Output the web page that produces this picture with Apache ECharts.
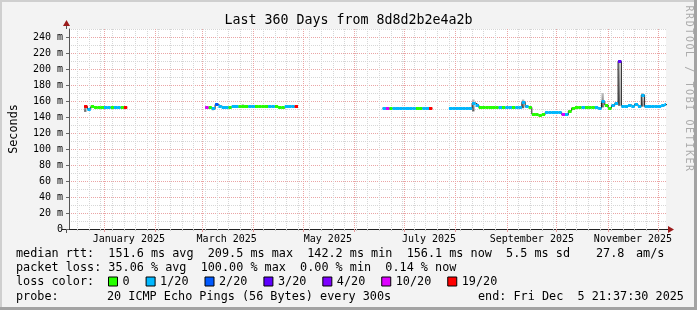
<!DOCTYPE html>
<html>
<head>
<meta charset="utf-8">
<script src="https://cdn.jsdelivr.net/npm/echarts@6/dist/echarts.min.js"></script>
<style>
html, body { margin: 0; padding: 0; background: #f3f3f3; }
#chart { width: 697px; height: 310px; }
</style>
</head>
<body>
<div id="chart"></div>
<script>
// time range of the graph (last 360 days)
const rangeStart = '2024-12-10T21:37:30Z';
const rangeEnd = '2025-12-05T21:37:30Z';
const stepDays = 2;

// loss colour buckets
const lossLabels = ['0', '1/20', '2/20', '3/20', '4/20', '10/20', '19/20'];
const lossColors = ['#26ff00', '#00b8ff', '#0059ff', '#5e00ff', '#7e00ff', '#dd00ff', '#ff0000'];

// median rtt (ms) per 2 day step, loss = index into lossLabels
const seg1Start = '2024-12-20';
const seg1Rtt = [153.2, 150.0, 152.8, 151.8, 151.6, 151.6, 151.6, 151.8, 151.6, 151.6, 151.8, 151.6, 151.8];
const seg1Loss = [6, 1, 0, 0, 0, 0, 1, 1, 0, 1, 1, 0, 6];

const seg2Start = '2025-03-03';
const seg2Rtt = [151.5, 151.5, 150.2, 155.5, 153.6, 152.2, 152.0, 152.4, 152.6, 152.6, 152.8, 153.0, 153.0, 153.4,
                 153.0, 152.8, 152.8, 153.0, 153.4, 153.0, 152.8, 152.8, 151.6, 151.4, 152.6, 153.4, 152.8, 152.6];
const seg2Loss = [5, 0, 1, 2, 1, 1, 1, 0, 1, 1, 0, 0, 0, 1, 1, 0, 0, 0, 0, 1, 1, 0, 0, 0, 1, 1, 1, 6];

const seg3Start = '2025-06-18';
const seg3Rtt = [150.8, 150.6, 150.8, 150.8, 150.8, 150.8, 150.8, 150.8, 150.8, 150.8, 150.8, 151.0, 151.0, 150.8, 150.8];
const seg3Loss = [1, 5, 0, 1, 1, 1, 1, 1, 1, 1, 0, 0, 1, 1, 6];

const seg4Start = '2025-07-28';
const seg4Rtt = [150.8, 150.8, 150.8, 150.8, 150.8, 150.8, 151.0, 157.5, 155.0, 152.0,
                 152.0, 152.4, 152.0, 151.6, 152.0, 152.0, 151.6, 152.0, 152.0, 151.6,
                 152.0, 152.4, 158.5, 153.0, 152.0, 143.6, 142.6, 142.2, 143.0, 145.6,
                 145.6, 145.6, 145.8, 145.6, 143.0, 142.6, 147.5, 151.0, 152.0, 152.0,
                 152.2, 152.0, 152.0, 152.0, 151.6, 151.0, 159.0, 155.0, 151.0, 154.4,
                 157.0, 209.5, 153.6, 153.4, 155.0, 153.4, 156.0, 153.4, 167.5, 153.0,
                 153.0, 153.4, 153.0, 153.4, 154.4, 156.1];
const seg4Loss = [1, 1, 1, 1, 1, 1, 1, 1, 1, 0,
                  0, 0, 0, 0, 0, 1, 0, 1, 1, 0,
                  1, 1, 1, 1, 0, 0, 0, 0, 0, 1,
                  1, 1, 1, 1, 5, 1, 0, 0, 0, 0,
                  1, 0, 0, 0, 1, 1, 1, 0, 0, 1,
                  1, 3, 1, 1, 1, 1, 1, 1, 1, 1,
                  1, 1, 1, 1, 1, 1];

// smoke (spread of the pings) where it is visible
const smokeDates = ['2024-12-20', '2025-03-07', '2025-03-25', '2025-08-11', '2025-09-10', '2025-10-28', '2025-11-07', '2025-11-21'];
const smokeLow = [146.5, 148.5, 151.5, 147.0, 151.0, 152.0, 154.0, 153.0];
const smokeHigh = [154.0, 152.0, 156.0, 162.0, 162.0, 170.0, 209.5, 170.0];

// axis labels
const monthLabels = ['January 2025', 'March 2025', 'May 2025', 'July 2025', 'September 2025', 'November 2025'];
const monthLabelDates = ['2025-01-16', '2025-03-16', '2025-05-16', '2025-07-16', '2025-09-16', '2025-11-16'];
const yMajorTicks = [0, 20, 40, 60, 80, 100, 120, 140, 160, 180, 200, 220, 240];

const DAY = 86400000;
const tMin = Date.parse(rangeStart);
const tMax = Date.parse(rangeEnd);
const mono = 'DejaVu Sans Mono';

// grid: month starts (red) and mondays (grey)
let monthStarts = [];
for (let m = 0; m < 12; m++) monthStarts.push(Date.UTC(2025, m, 1));
let mondays = [];
for (let t = Date.parse('2024-12-16'); t < tMax; t += 7 * DAY) mondays.push(t);
const labelTimes = monthLabelDates.map(d => Date.parse(d));

// build samples
const segments = [
    [seg1Start, seg1Rtt, seg1Loss],
    [seg2Start, seg2Rtt, seg2Loss],
    [seg3Start, seg3Rtt, seg3Loss],
    [seg4Start, seg4Rtt, seg4Loss]
];
let bucketData = lossLabels.map(() => []);
let medianLine = [];
segments.forEach(([start, rtt, loss]) => {
    const t0 = Date.parse(start);
    rtt.forEach((v, i) => {
        const a = t0 + i * stepDays * DAY;
        const b = a + stepDays * DAY;
        bucketData[loss[i]].push([a, b, v]);
        medianLine.push([a, v]);
        if (i === rtt.length - 1) {
            medianLine.push([b, v]);
            medianLine.push([b + 1, '-']);
        }
    });
});
const smokeData = smokeDates.map((d, i) => {
    const a = Date.parse(d);
    return [a, a + stepDays * DAY, smokeLow[i], smokeHigh[i]];
});

function barItem(params, api) {
    const p = api.coord([api.value(0), api.value(2)]);
    const q = api.coord([api.value(1), api.value(2)]);
    return {
        type: 'rect',
        shape: { x: p[0], y: Math.round(p[1] - 1.5), width: q[0] - p[0], height: 3 },
        style: { fill: api.visual('color') }
    };
}
function smokeItem(params, api) {
    const p = api.coord([api.value(0), api.value(3)]);
    const q = api.coord([api.value(1), api.value(2)]);
    return {
        type: 'rect',
        shape: { x: p[0], y: p[1], width: (q[0] - p[0]) * 0.7, height: q[1] - p[1] },
        style: {
            fill: new echarts.graphic.LinearGradient(0, 0, 0, 1, [
                { offset: 0, color: '#c4c4c4' },
                { offset: 1, color: '#5a5a5a' }
            ])
        }
    };
}

var myChart = echarts.init(document.getElementById('chart'));

let series = [{
    type: 'custom',
    name: 'smoke',
    xAxisIndex: 1,
    z: 1,
    clip: true,
    renderItem: smokeItem,
    encode: { x: [0, 1], y: [2, 3] },
    data: smokeData
}, {
    type: 'line',
    name: 'median',
    xAxisIndex: 1,
    z: 2,
    step: 'end',
    showSymbol: false,
    connectNulls: false,
    lineStyle: { color: '#202020', width: 1 },
    data: medianLine
}];
lossLabels.forEach((name, i) => {
    series.push({
        type: 'custom',
        name: name,
        xAxisIndex: 1,
        z: 3,
        clip: true,
        itemStyle: { color: lossColors[i] },
        renderItem: barItem,
        encode: { x: [0, 1], y: 2 },
        data: bucketData[i]
    });
});

const textRow = (str, x, y) => ({
    type: 'text', x: x, y: y, silent: true,
    style: { text: str, font: '11.8px "DejaVu Sans Mono"', fill: '#000', verticalAlign: 'middle' }
});

// watermark, one glyph per cell
const mark = 'RRDTOOL / TOBI OETIKER';
const markGlyphs = mark.split('').map((ch, i) => ({
    type: 'text', silent: true, x: 688.5, y: 8.5 + i * 7.6, rotation: -Math.PI / 2,
    style: { text: ch, font: '10px "DejaVu Sans Mono"', fill: '#ababab', align: 'center', verticalAlign: 'middle' }
}));

var option = {
    animation: false,
    backgroundColor: '#f3f3f3',
    title: {
        text: 'Last 360 Days from 8d8d2b2e4a2b',
        left: 'center',
        top: 14,
        padding: 0,
        textStyle: { fontFamily: mono, fontSize: 13.3, fontWeight: 'normal', color: '#000' }
    },
    grid: {
        left: 66, top: 29, width: 600, height: 200,
        show: true, backgroundColor: '#ffffff', borderWidth: 0
    },
    legend: {
        data: lossLabels,
        left: 108,
        top: 275.5,
        padding: 0,
        icon: 'rect',
        itemWidth: 9,
        itemHeight: 9,
        itemGap: 16,
        selectedMode: false,
        itemStyle: { borderColor: '#000', borderWidth: 1 },
        textStyle: { fontFamily: mono, fontSize: 11.8, color: '#000' }
    },
    xAxis: [{
        // mondays
        type: 'value', min: tMin, max: tMax, position: 'bottom',
        axisLine: { show: false },
        axisLabel: { show: false },
        axisTick: { show: true, length: 2, customValues: mondays, lineStyle: { color: '#c8c8c8' } },
        splitLine: { show: true, lineStyle: { color: '#d6d6d6', type: [1, 1], width: 1 } }
    }, {
        // month starts
        type: 'value', min: tMin, max: tMax, position: 'bottom',
        axisLine: { show: true, lineStyle: { color: '#222', width: 1 } },
        axisTick: { show: true, length: 3, customValues: monthStarts, lineStyle: { color: '#e59a9a' } },
        axisLabel: {
            customValues: labelTimes,
            margin: 5,
            fontFamily: mono, fontSize: 10, color: '#000',
            formatter: v => monthLabels[labelTimes.indexOf(v)] || ''
        },
        splitLine: { show: true, lineStyle: { color: '#eaa5a5', type: [1, 1], width: 1 } }
    }],
    yAxis: [{
        type: 'value', min: 0, max: 250, interval: 10,
        name: 'Seconds',
        nameLocation: 'middle',
        nameRotate: 90,
        nameGap: 49,
        nameTextStyle: { fontFamily: mono, fontSize: 11.8, color: '#000' },
        axisLine: { show: true, lineStyle: { color: '#555', width: 1 } },
        axisTick: { show: false },
        axisLabel: {
            margin: 6, fontFamily: mono, fontSize: 10, color: '#000',
            formatter: v => (v === 0 ? '0' : (v % 20 === 0 ? v + ' m' : ''))
        },
        splitLine: { show: true, lineStyle: { color: ['#eaa5a5', '#d6d6d6'], type: [1, 1], width: 1 } }
    }, {
        type: 'value', min: 0, max: 250, position: 'left',
        axisLine: { show: false },
        axisLabel: { show: false },
        axisTick: { show: true, length: 3, customValues: yMajorTicks, lineStyle: { color: '#666' } },
        splitLine: { show: false }
    }],
    series: series,
    graphic: [
        // frame
        { type: 'rect', silent: true, shape: { x: 0, y: 0, width: 697, height: 2 }, style: { fill: '#cfcfcf' } },
        { type: 'rect', silent: true, shape: { x: 0, y: 0, width: 2, height: 310 }, style: { fill: '#cfcfcf' } },
        { type: 'rect', silent: true, shape: { x: 0, y: 307, width: 697, height: 3 }, style: { fill: '#a3a3a3' } },
        { type: 'rect', silent: true, shape: { x: 694, y: 0, width: 3, height: 310 }, style: { fill: '#a3a3a3' } },
        // axis extensions and arrows
        { type: 'line', silent: true, shape: { x1: 66.5, y1: 22, x2: 66.5, y2: 29 }, style: { stroke: '#555', lineWidth: 1 } },
        { type: 'line', silent: true, shape: { x1: 66.5, y1: 229, x2: 66.5, y2: 233 }, style: { stroke: '#555', lineWidth: 1 } },
        { type: 'line', silent: true, shape: { x1: 62, y1: 229.5, x2: 66, y2: 229.5 }, style: { stroke: '#222', lineWidth: 1 } },
        { type: 'line', silent: true, shape: { x1: 666, y1: 229.5, x2: 669, y2: 229.5 }, style: { stroke: '#222', lineWidth: 1 } },
        { type: 'polygon', silent: true, shape: { points: [[63, 26], [70, 26], [66.5, 20]] }, style: { fill: '#9b1c1c' } },
        { type: 'polygon', silent: true, shape: { points: [[668, 226], [668, 233], [674, 229.5]] }, style: { fill: '#9b1c1c' } },
        // legend text rows
        textRow('median rtt:  151.6 ms avg  209.5 ms max  142.2 ms min  156.1 ms now  5.5 ms sd', 16, 254),
        textRow('27.8', 596, 254),
        textRow('am/s', 636, 254),
        textRow('packet loss: 35.06 % avg  100.00 % max  0.00 % min  0.14 % now', 16, 268.3),
        textRow('loss color:', 16, 282.3),
        textRow('probe:', 16, 296.5),
        textRow('20 ICMP Echo Pings (56 Bytes) every 300s', 107, 296.5),
        textRow('end: Fri Dec  5 21:37:30 2025', 478, 296.5)
    ].concat(markGlyphs)
};

myChart.setOption(option);
</script>
</body>
</html>
